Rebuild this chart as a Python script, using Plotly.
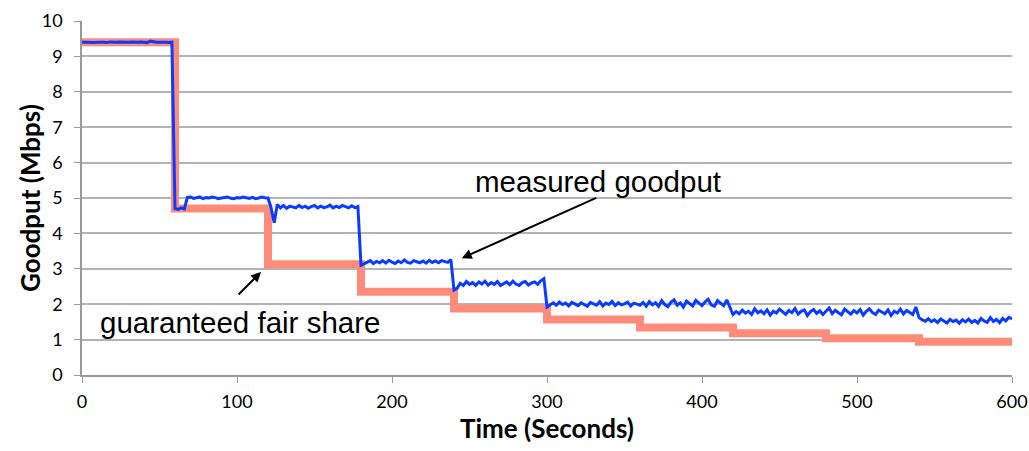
import numpy as np
import plotly.graph_objects as go

# Guaranteed fair share (step levels, each held for 60 s)
fair_t = [0, 60, 120, 180, 240, 300, 360, 420, 480, 540, 600]
fair_v = [9.40, 4.70, 3.13, 2.35, 1.88, 1.57, 1.34, 1.18, 1.04, 0.94, 0.94]

# Measured goodput sampled every 2 s
meas_t = list(range(0, 601, 2))
meas_v = (
    [9.40, 9.41, 9.40, 9.39, 9.40, 9.41, 9.40, 9.40, 9.39, 9.41, 9.40, 9.40, 9.41, 9.40, 9.39,
     9.40, 9.41, 9.40, 9.40, 9.41, 9.40, 9.39, 9.43, 9.41, 9.40, 9.40, 9.41, 9.40, 9.39, 9.40]
    + [4.70, 4.68, 4.72, 4.69]
    + [5.02, 5.03, 4.99, 5.01, 5.03, 4.98, 5.01, 5.00, 5.03, 5.01, 4.98, 5.00, 5.02, 5.03, 4.99,
       4.98, 5.01, 5.00, 5.03, 5.01, 4.99, 5.02, 4.98, 5.00, 5.03, 5.01, 5.00]
    + [4.72, 4.30, 4.82, 4.72, 4.79, 4.71, 4.77, 4.74, 4.72, 4.79, 4.73, 4.77, 4.71, 4.76, 4.79,
       4.72, 4.77, 4.73, 4.75, 4.80, 4.72, 4.77, 4.73, 4.79, 4.75, 4.72, 4.78, 4.73, 4.76]
    + [3.10, 3.14, 3.19, 3.23, 3.15, 3.21, 3.17, 3.23, 3.16, 3.24, 3.19, 3.15, 3.22, 3.17, 3.25,
       3.18, 3.16, 3.23, 3.20, 3.17, 3.22, 3.16, 3.24, 3.18, 3.22, 3.17, 3.23, 3.20, 3.18, 3.26]
    + [2.40, 2.45, 2.59, 2.53, 2.64, 2.56, 2.61, 2.53, 2.63, 2.57, 2.65, 2.54, 2.61, 2.56, 2.64,
       2.53, 2.59, 2.63, 2.55, 2.65, 2.57, 2.53, 2.61, 2.64, 2.54, 2.60, 2.63, 2.56, 2.66, 2.72]
    + [1.92, 1.98, 2.04, 1.97, 2.06, 1.99, 2.03, 1.95, 2.05, 2.01, 1.96, 2.04, 2.00, 1.94, 2.05,
       2.01, 1.97, 2.07, 1.95, 2.03, 1.99, 2.08, 1.96, 2.04, 1.98, 2.01, 2.06, 1.95, 2.03, 2.00]
    + [1.97, 2.05, 1.94, 2.07, 1.98, 2.04, 1.94, 2.10, 1.99, 1.93, 2.06, 2.12, 1.97, 2.04, 1.92,
       2.09, 2.01, 1.95, 2.11, 2.02, 1.96, 2.07, 2.14, 1.98, 1.94, 2.10, 2.03, 1.96, 2.12, 1.93]
    + [1.71, 1.79, 1.73, 1.83, 1.75, 1.80, 1.71, 1.87, 1.76, 1.81, 1.73, 1.84, 1.69, 1.80, 1.75,
       1.86, 1.78, 1.71, 1.82, 1.76, 1.88, 1.72, 1.80, 1.84, 1.68, 1.79, 1.85, 1.74, 1.81, 1.71,
       1.80, 1.89, 1.73, 1.83, 1.76, 1.70, 1.86, 1.78, 1.72, 1.82, 1.75, 1.85, 1.69, 1.80, 1.87,
       1.76, 1.71, 1.83, 1.78, 1.73, 1.84, 1.68, 1.80, 1.75, 1.86, 1.72, 1.82, 1.76, 1.71, 1.92]
    + [1.62, 1.56, 1.52, 1.59, 1.51, 1.56, 1.48, 1.58, 1.52, 1.47, 1.57, 1.51, 1.55, 1.46, 1.56,
       1.50, 1.58, 1.48, 1.54, 1.47, 1.60, 1.53, 1.49, 1.62, 1.51, 1.57, 1.48, 1.60, 1.53, 1.63, 1.58]
)

x_ticks = [0, 100, 200, 300, 400, 500, 600]
y_ticks = [0, 1, 2, 3, 4, 5, 6, 7, 8, 9, 10]

fig = go.Figure()
fig.add_trace(go.Scatter(x=fair_t, y=fair_v, mode="lines", line=dict(shape="hv", color="#FF8C7A", width=8),
                         showlegend=False, hoverinfo="skip"))
fig.add_trace(go.Scatter(x=meas_t, y=meas_v, mode="lines", line=dict(color="#0A3CFF", width=3),
                         showlegend=False))

fig.add_annotation(x=333, y=5.48, text="measured goodput", showarrow=False,
                   font=dict(family="Liberation Sans, Arial", size=29.5, color="black"))
fig.add_annotation(x=245, y=3.3, ax=136, ay=-61, text="", showarrow=True, arrowhead=2,
                   arrowsize=1, arrowwidth=2, arrowcolor="black")
fig.add_annotation(x=10.3, y=1.47, text="guaranteed fair share", showarrow=False, xanchor="left",
                   font=dict(family="Liberation Sans, Arial", size=29.5, color="black"))
fig.add_annotation(x=115.5, y=2.91, ax=-24, ay=24, text="", showarrow=True, arrowhead=2,
                   arrowsize=1, arrowwidth=2, arrowcolor="black")

# axis titles as annotations for precise placement
fig.add_annotation(xref="paper", yref="paper", x=0.5, y=0, yshift=-53, text="<b>Time (Seconds)</b>",
                   showarrow=False, xanchor="center", yanchor="middle",
                   font=dict(family="Lato", size=26, color="black"))
fig.add_annotation(xref="paper", yref="paper", x=0, y=0.5, xshift=-52, text="<b>Goodput (Mbps)</b>",
                   showarrow=False, xanchor="center", yanchor="middle", textangle=-90,
                   font=dict(family="Lato", size=26, color="black"))

fig.update_layout(
    width=1029, height=451,
    margin=dict(l=82, r=17, t=21, b=76, autoexpand=False),
    paper_bgcolor="white", plot_bgcolor="white",
    font=dict(family="Lato", size=18, color="black"),
)
fig.update_xaxes(range=[0, 600], tickvals=x_ticks, showgrid=False, showline=True, linecolor="#999999",
                 linewidth=1.5, ticks="outside", ticklen=6, tickcolor="#999999", zeroline=False,
                 ticklabelstandoff=4, automargin=False)
fig.update_yaxes(range=[0, 10], tickvals=y_ticks, showgrid=True, gridcolor="#B3B3B3", gridwidth=1.5,
                 showline=True, linecolor="#999999", linewidth=1.5, ticks="outside", ticklen=6,
                 tickcolor="#999999", zeroline=False, ticklabelstandoff=8, automargin=False)

fig.write_html("out.html")
